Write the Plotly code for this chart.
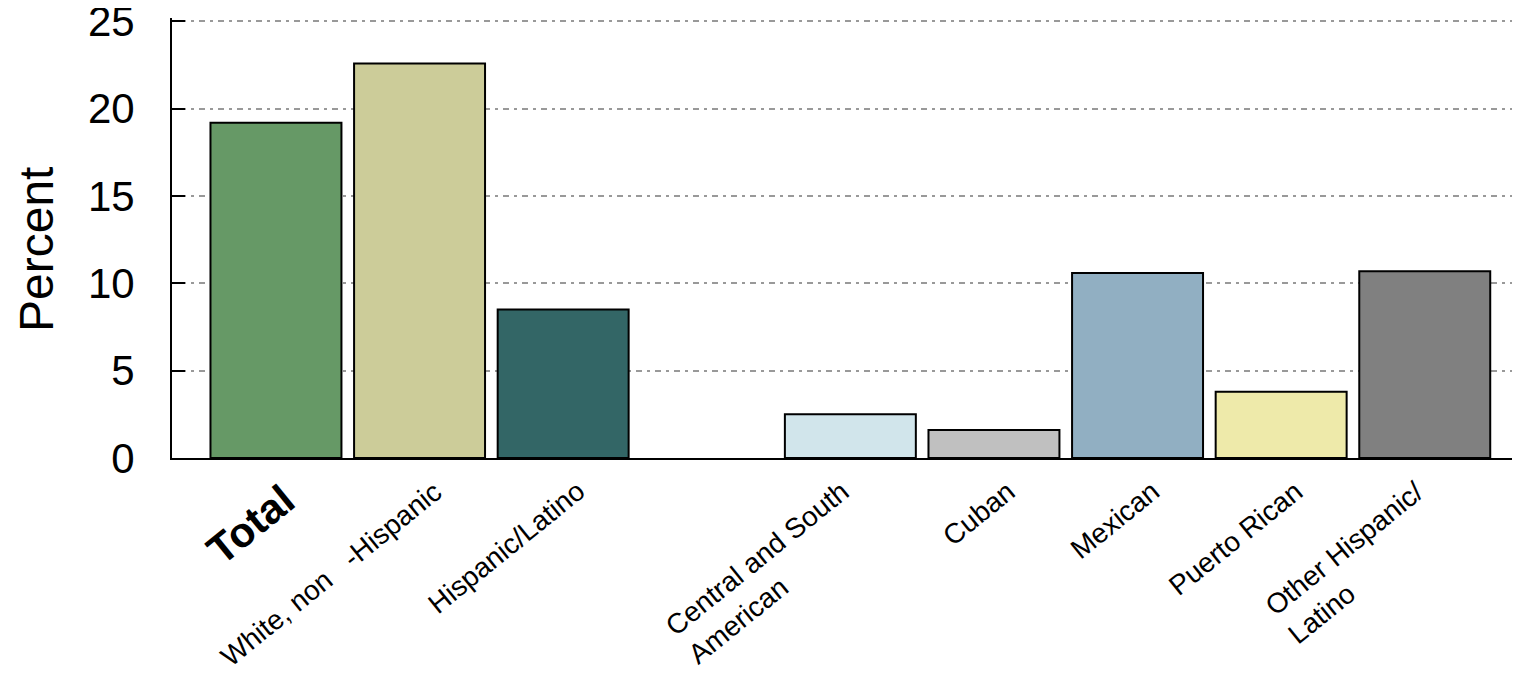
import plotly.graph_objects as go

categories = ["Total", "White, non-Hispanic", "Hispanic/Latino", " ",
              "Central and South American", "Cuban", "Mexican", "Puerto Rican",
              "Other Hispanic/Latino"]
tick_labels = ["<b>Total</b>", "White, non\u00a0\u00a0\u00a0-Hispanic", "Hispanic/Latino", "",
               "Central and South<br>American", "Cuban", "Mexican", "Puerto Rican",
               "Other Hispanic/<br>Latino"]
values = [19.2, 22.6, 8.5, None, 2.5, 1.6, 10.6, 3.8, 10.7]
colors = ["#669966", "#CCCC99", "#336666", "#FFFFFF", "#D1E5EB", "#C0C0C0",
          "#91AFC2", "#EEEAAA", "#808080"]
y_ticks = [0, 5, 10, 15, 20, 25]
y_title = "Percent"

FONT = "Liberation Sans, Arial, sans-serif"

fig = go.Figure()
fig.add_trace(go.Bar(
    x=categories, y=values,
    marker=dict(color=colors, line=dict(color="black", width=2)),
    showlegend=False,
))

for cat, lab in zip(categories, tick_labels):
    if not lab:
        continue
    is_total = cat == "Total"
    fig.add_annotation(
        x=cat, y=0, xref="x", yref="y",
        text=lab, showarrow=False,
        textangle=-39,
        xanchor="right", yanchor="top", align="left",
        xshift=30, yshift=-15,
        font=dict(family=FONT, size=42 if is_total else 28, color="black"),
    )

fig.add_annotation(
    x=0, y=0.5, xref="paper", yref="paper",
    text=y_title, showarrow=False, textangle=-90,
    xanchor="center", yanchor="middle",
    xshift=-136, yshift=-12, borderpad=0,
    font=dict(family=FONT, size=48, color="black"),
)

fig.update_layout(
    width=1520, height=676,
    margin=dict(l=164, r=0, t=10, b=226, autoexpand=False),
    paper_bgcolor="white", plot_bgcolor="white",
    bargap=0.088,
    font=dict(family=FONT, color="black"),
    xaxis=dict(
        type="category", categoryorder="array", categoryarray=categories,
        range=[-0.724, 8.719], automargin=False,
        showticklabels=False, ticks="",
        showline=True, linecolor="black", linewidth=2,
        showgrid=False, zeroline=False,
    ),
    yaxis=dict(
        range=[0, 25.2], tickvals=y_ticks, automargin=False,
        ticks="inside", ticklen=13, tickwidth=2, tickcolor="black",
        showline=True, linecolor="black", linewidth=2, mirror="ticks",
        showgrid=True, gridcolor="#999999", gridwidth=1.5,
        griddash="3px,5px,6px,5px",
        zeroline=False,
        tickfont=dict(family=FONT, size=42, color="black"),
        ticklabeloverflow="allow",
        ticklabelstandoff=27,
    ),
)

fig.write_html("out.html")
